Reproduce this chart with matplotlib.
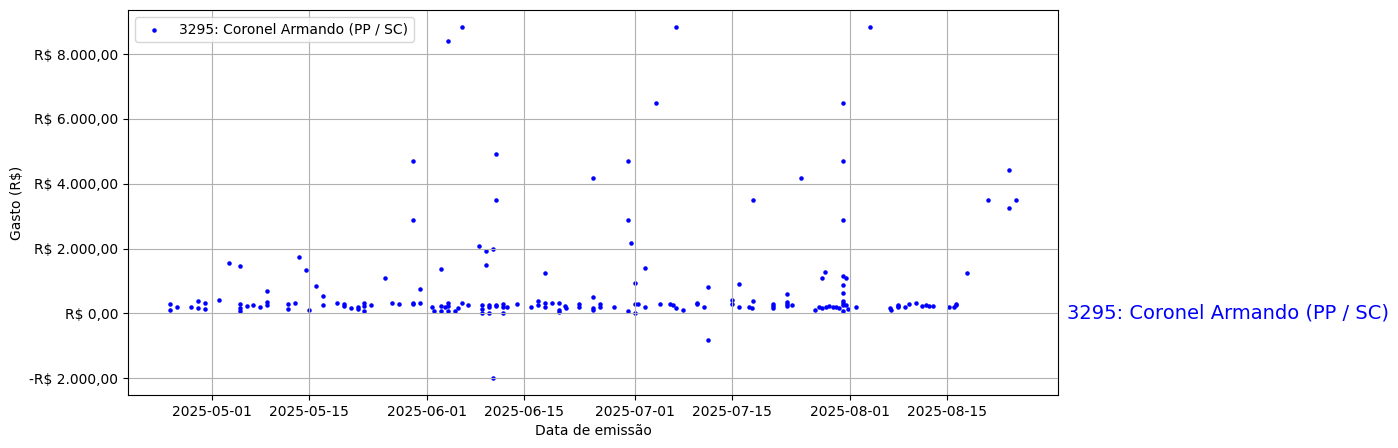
import pandas as pd
import matplotlib
matplotlib.use('Agg')
import matplotlib.pyplot as plt
from matplotlib.ticker import FuncFormatter
import matplotlib.transforms as mtransforms

label = '3295: Coronel Armando (PP / SC)'

# datas de emissao e valores
datas = [
    '2025-04-25', '2025-04-25', '2025-04-26', '2025-04-28', '2025-04-29', '2025-04-29',
    '2025-04-30', '2025-04-30', '2025-05-02', '2025-05-03 11:00', '2025-05-05', '2025-05-05',
    '2025-05-05', '2025-05-05', '2025-05-06', '2025-05-07', '2025-05-08', '2025-05-09',
    '2025-05-09', '2025-05-09', '2025-05-12', '2025-05-12', '2025-05-13', '2025-05-13 13:00',
    '2025-05-14 13:00', '2025-05-15', '2025-05-16', '2025-05-17', '2025-05-17', '2025-05-19',
    '2025-05-20', '2025-05-20', '2025-05-21', '2025-05-22', '2025-05-22', '2025-05-23',
    '2025-05-23', '2025-05-23', '2025-05-24', '2025-05-26', '2025-05-27', '2025-05-28',
    '2025-05-30', '2025-05-30', '2025-05-30', '2025-05-30', '2025-05-31', '2025-05-31',
    '2025-06-01 17:00', '2025-06-02', '2025-06-03', '2025-06-03', '2025-06-03', '2025-06-03 14:00',
    '2025-06-04', '2025-06-04', '2025-06-04', '2025-06-04', '2025-06-05', '2025-06-05 11:00',
    '2025-06-06', '2025-06-06', '2025-06-07', '2025-06-08 12:00', '2025-06-08 22:00', '2025-06-08 22:00',
    '2025-06-08 22:00', '2025-06-09 12:00', '2025-06-09 12:00', '2025-06-10', '2025-06-10', '2025-06-10',
    '2025-06-10 12:00', '2025-06-10 12:00', '2025-06-11', '2025-06-11', '2025-06-11', '2025-06-11',
    '2025-06-12', '2025-06-12', '2025-06-12', '2025-06-12 13:00', '2025-06-14', '2025-06-16',
    '2025-06-17', '2025-06-17', '2025-06-18', '2025-06-18', '2025-06-18', '2025-06-19',
    '2025-06-20', '2025-06-20', '2025-06-20', '2025-06-20 22:00', '2025-06-21', '2025-06-22 22:00',
    '2025-06-22 22:00', '2025-06-24 22:00', '2025-06-24 22:00', '2025-06-24 22:00', '2025-06-24 22:00',
    '2025-06-25 22:00', '2025-06-25 22:00', '2025-06-27 23:00', '2025-06-30', '2025-06-30',
    '2025-06-30', '2025-06-30 10:00', '2025-07-01', '2025-07-01', '2025-07-01', '2025-07-01 10:00',
    '2025-07-02 10:00', '2025-07-02 10:00', '2025-07-04', '2025-07-04 14:00', '2025-07-06',
    '2025-07-06 11:00', '2025-07-06 22:00', '2025-07-06 22:00', '2025-07-07 22:00', '2025-07-09 22:00',
    '2025-07-09 22:00', '2025-07-10 22:00', '2025-07-11 12:00', '2025-07-11 12:00', '2025-07-15',
    '2025-07-15', '2025-07-16', '2025-07-16', '2025-07-17 10:00', '2025-07-17 20:00', '2025-07-18',
    '2025-07-18', '2025-07-20 21:00', '2025-07-20 21:00', '2025-07-20 21:00', '2025-07-22 22:00',
    '2025-07-22 22:00', '2025-07-22 22:00', '2025-07-22 22:00', '2025-07-23 15:00', '2025-07-24 22:00',
    '2025-07-26 22:00', '2025-07-27 12:00', '2025-07-27 23:00', '2025-07-27 23:00', '2025-07-28 09:00',
    '2025-07-28 12:00', '2025-07-28 23:00', '2025-07-29 13:00', '2025-07-29 23:00', '2025-07-30 10:00',
    '2025-07-30 23:00', '2025-07-30 23:00', '2025-07-30 23:00', '2025-07-30 23:00', '2025-07-30 23:00',
    '2025-07-30 23:00', '2025-07-30 23:00', '2025-07-30 23:00', '2025-07-30 23:00', '2025-07-30 23:00',
    '2025-07-31 10:00', '2025-07-31 10:00', '2025-07-31 17:00', '2025-08-01 20:00', '2025-08-03 21:00',
    '2025-08-06 18:00', '2025-08-06 22:00', '2025-08-07 22:00', '2025-08-07 22:00', '2025-08-07 22:00',
    '2025-08-08 22:00', '2025-08-09 12:00', '2025-08-10 12:00', '2025-08-11 09:00', '2025-08-11 23:00',
    '2025-08-12 10:00', '2025-08-12 23:00', '2025-08-15 06:00', '2025-08-15 23:00', '2025-08-16 07:00',
    '2025-08-16 09:00', '2025-08-17 20:00', '2025-08-20 21:00', '2025-08-23 22:00', '2025-08-23 22:00',
    '2025-08-24 22:00',
]
valores = [
    300, 114, 185, 185, 392, 176,
    330, 133, 423, 1565, 1472, 300,
    176, 83, 216, 247, 207, 700,
    361, 269, 300, 133, 330, 1750,
    1349, 114, 855, 546, 269, 330,
    300, 225, 176, 194, 133, 330,
    238, 62, 269, 1102, 330, 300,
    300, 330, 4713, 2892, 762, 330,
    207, 62, 1380, 238, 62, 207,
    330, 238, 83, 8417, 62, 176,
    330, 8818, 269, 2090, 269, 145,
    22, 1935, 1503, 269, 207, 22,
    2000, -1975, 269, 238, 4929, 3509,
    300, 207, 22, 207, 300, 207,
    392, 269, 1256, 330, 207, 330,
    330, 114, 52, 238, 176, 300,
    207, 515, 176, 114, 4188,
    300, 207, 207, 83, 4713,
    2892, 2182, 948, 300, 22, 300,
    1410, 207, 6503, 300, 300,
    269, 176, 8818, 114, 330,
    300, 207, 824, -812, 423,
    300, 917, 207, 207, 176, 392,
    3509, 300, 238, 176, 608,
    361, 300, 238, 269, 4188,
    114, 207, 176, 1102, 1287,
    207, 238, 207, 207, 176,
    1142, 887, 639, 392, 330,
    269, 62, 6503, 4713, 2892,
    1102, 269, 145, 207, 8818,
    176, 114, 269, 207, 238,
    207, 300, 330, 238, 269,
    238, 238, 207, 207, 300,
    269, 1256, 3509, 4435, 3262,
    3509,
]

df = pd.DataFrame({'data': pd.to_datetime(datas, format='ISO8601'), 'valor': valores})


def brl(v, pos=None):
    s = f'{abs(v):,.2f}'.replace(',', 'X').replace('.', ',').replace('X', '.')
    return ('-' if v < 0 else '') + 'R$ ' + s


fig = plt.figure(figsize=(13.98, 4.48), dpi=100)
ax = fig.add_axes([128 / 1398, 53 / 448, 930 / 1398, 385 / 448])

ax.scatter(df['data'], df['valor'], s=5, color='blue', label=label)
ax.yaxis.set_major_formatter(FuncFormatter(brl))
ax.set_xlabel('Data de emissão')
ax.set_ylabel('Gasto (R$)')
ax.grid(True)
ax.legend(loc='upper left')

# nome do deputado ao lado do grafico
trans = mtransforms.blended_transform_factory(ax.transAxes, ax.transData)
ax.text(1.01, 0, label, transform=trans, color='blue', fontsize=14, va='center', ha='left')

plt.savefig('out.png', dpi=100)
